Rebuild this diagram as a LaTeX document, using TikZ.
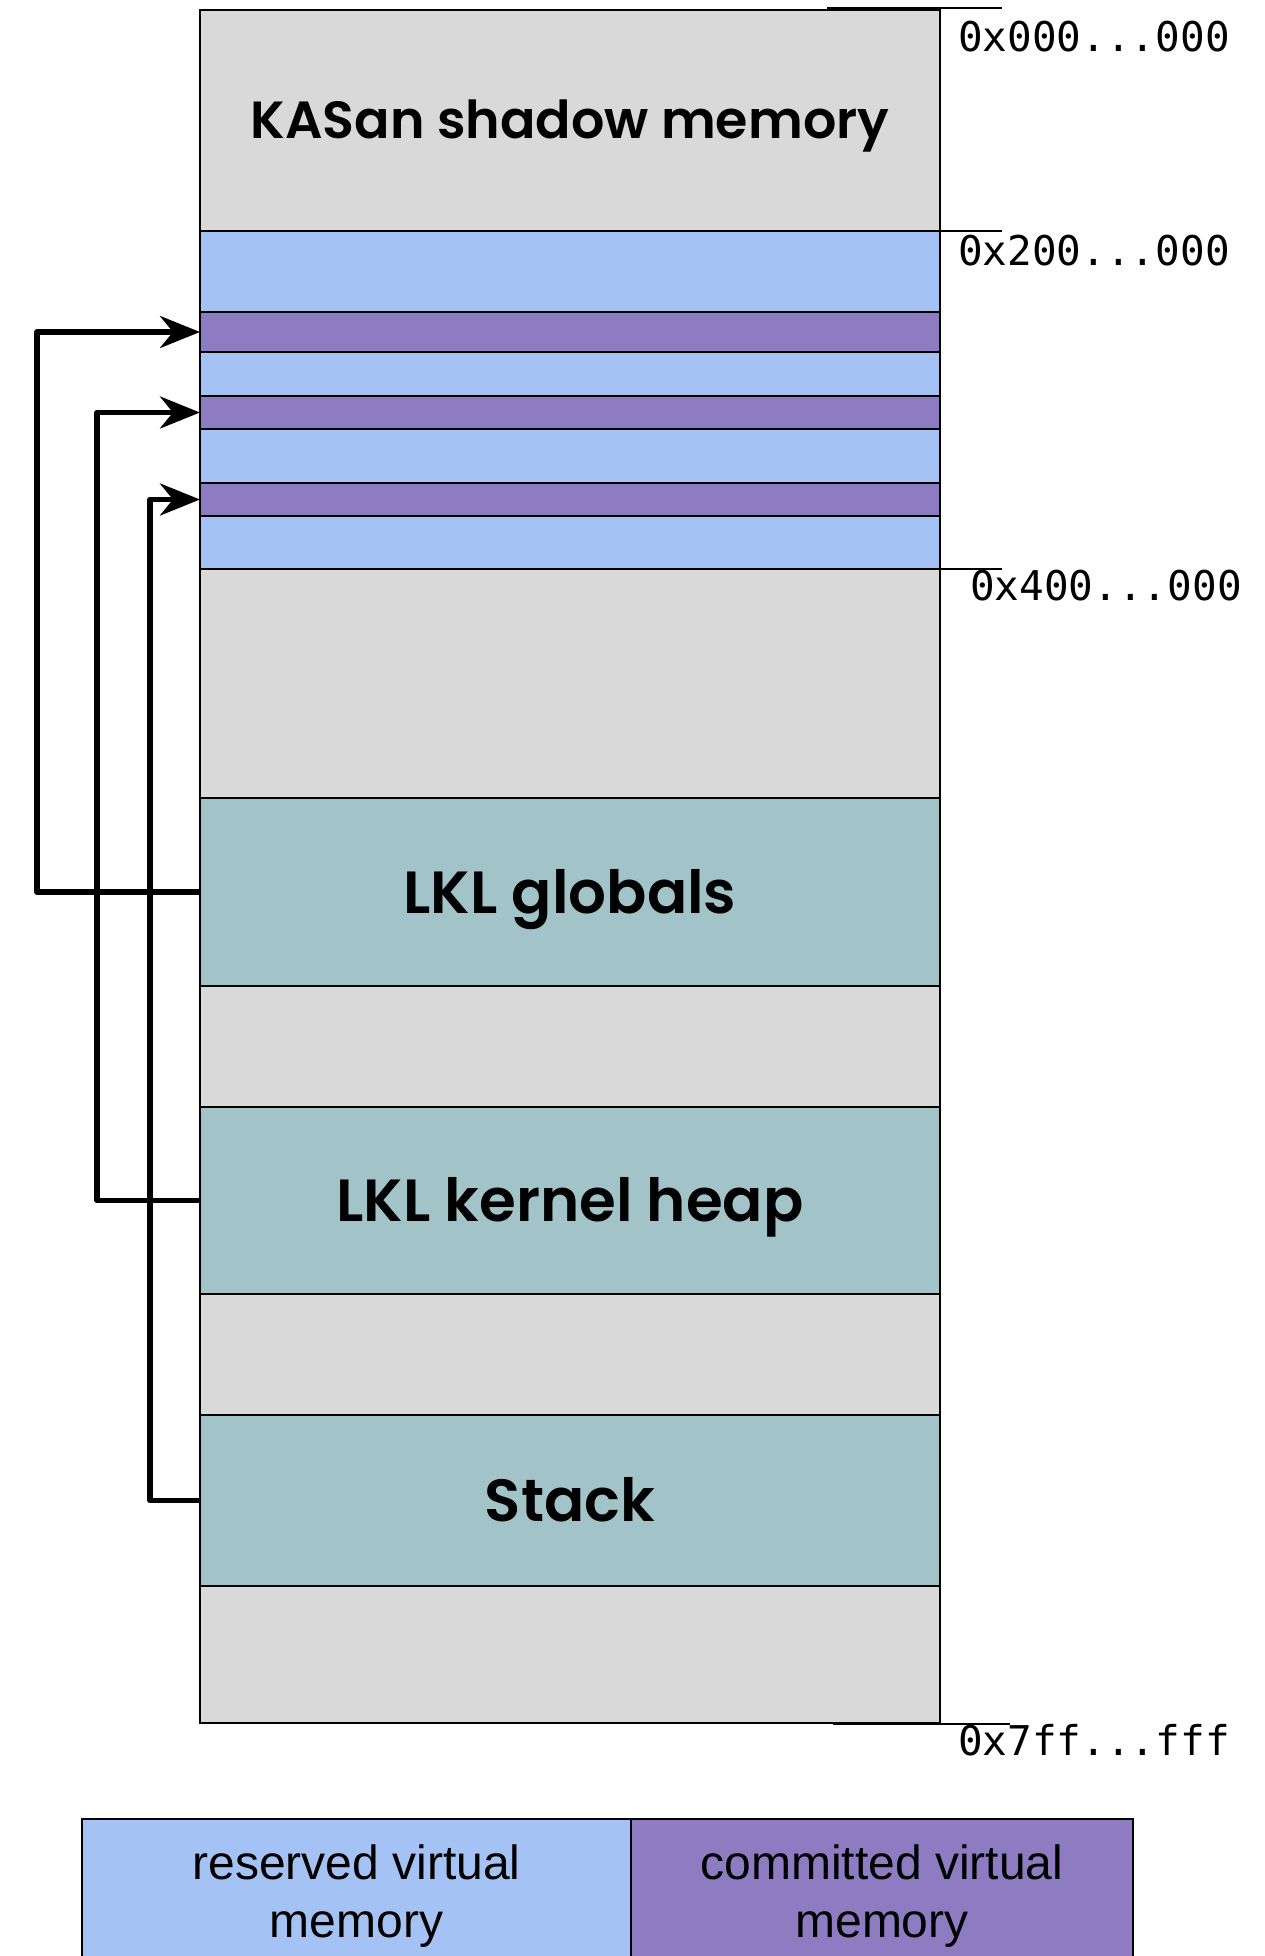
\documentclass[tikz,border=0pt]{standalone}
\usepackage{fontspec}
\usetikzlibrary{arrows.meta}
\newfontfamily\boxfont{Poppins}[BoldFont={Poppins SemiBold}]
\newfontfamily\addrfont{DejaVu Sans Mono}
\newfontfamily\legendfont{Liberation Sans}
\definecolor{shadowgray}{HTML}{D9D9D9}
\definecolor{reservedblue}{HTML}{A4C2F4}
\definecolor{committedpurple}{HTML}{8E7CC3}
\definecolor{regionteal}{HTML}{A2C4C9}
\tikzset{
  band/.style={draw=black, line width=1.5pt, minimum width=740pt, inner sep=0pt,
    outer sep=0pt, anchor=north west},
  bigtitle/.style={font=\boxfont\bfseries\fontsize{52.3pt}{62pt}\selectfont,
    text height=37pt, text depth=0pt},
  regiontitle/.style={font=\boxfont\bfseries\fontsize{59.5pt}{70pt}\selectfont,
    text height=42pt, text depth=0pt},
  addr/.style={anchor=base west, inner sep=0pt, font=\addrfont\fontsize{41pt}{48pt}\selectfont},
  tick/.style={line width=1.5pt},
  maparrow/.style={line width=5.5pt, line join=round,
    -{Stealth[length=40pt, width=32pt, inset=13pt]}},
  legendbox/.style={draw=black, line width=1.5pt, inner sep=0pt, outer sep=0pt,
    anchor=north west, minimum height=154pt, align=center,
    font=\legendfont\fontsize{48pt}{58pt}\selectfont},
}
\begin{document}
\begin{tikzpicture}[x=1pt, y=-1pt]
\useasboundingbox (0,0) rectangle (1265,1956);

% address space column, top to bottom
\node[band, bigtitle, fill=shadowgray, minimum height=221pt] (kasan) at (200,10) {KASan shadow memory};
\node[band, fill=reservedblue, minimum height=81pt] (b1) at (kasan.south west) {};
\node[band, fill=committedpurple, minimum height=40pt] (p1) at (b1.south west) {};
\node[band, fill=reservedblue, minimum height=44pt] (b2) at (p1.south west) {};
\node[band, fill=committedpurple, minimum height=33pt] (p2) at (b2.south west) {};
\node[band, fill=reservedblue, minimum height=54pt] (b3) at (p2.south west) {};
\node[band, fill=committedpurple, minimum height=33pt] (p3) at (b3.south west) {};
\node[band, fill=reservedblue, minimum height=53pt] (b4) at (p3.south west) {};
\node[band, fill=shadowgray, minimum height=229pt] (g1) at (b4.south west) {};
\node[band, regiontitle, fill=regionteal, minimum height=188pt] (glob) at (g1.south west) {LKL globals};
\node[band, fill=shadowgray, minimum height=121pt] (g2) at (glob.south west) {};
\node[band, regiontitle, fill=regionteal, minimum height=187pt] (heap) at (g2.south west) {LKL kernel heap};
\node[band, fill=shadowgray, minimum height=121pt] (g3) at (heap.south west) {};
\node[band, regiontitle, fill=regionteal, minimum height=171pt] (stack) at (g3.south west) {Stack};
\node[band, fill=shadowgray, minimum height=137pt] (g4) at (stack.south west) {};

% address ticks and labels
\draw[tick] (827,8) -- (1002,8);
\draw[tick] (b1.north east) -- ++(62,0);
\draw[tick] (g1.north east) -- ++(62,0);
\draw[tick] (833,1724) -- (1010,1724);
\node[addr] (a0) at (958,52) {0x000...000};
\node[addr] (a2) at (958,265) {0x200...000};
\node[addr] (a4) at (970,600) {0x400...000};
\node[addr] (a7) at (958,1755) {0x7ff...fff};

% shadow mappings
\draw[maparrow] (glob.west) -- ++(-163,0) |- (p1.west);
\draw[maparrow] (heap.west) -- ++(-103,0) |- (p2.west);
\draw[maparrow] (stack.west) -- ++(-50,0) |- (p3.west);

% legend
\node[legendbox, fill=reservedblue, minimum width=549pt] (legres) at (82,1819)
  {reserved virtual\\memory};
\node[legendbox, fill=committedpurple, minimum width=502pt] (legcom) at (legres.north east)
  {committed virtual\\memory};
\end{tikzpicture}
\end{document}
